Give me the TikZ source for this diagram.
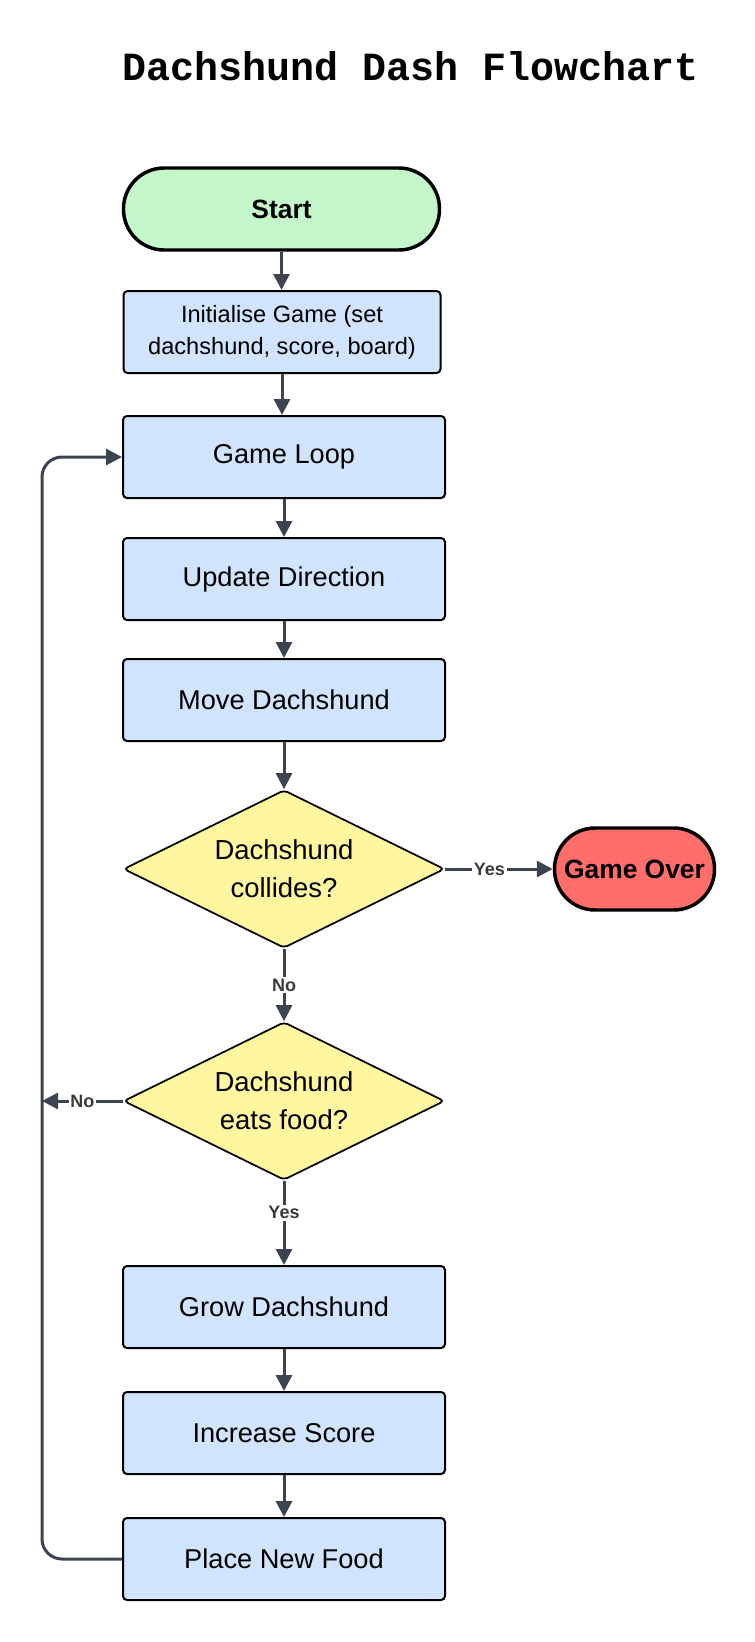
\documentclass[tikz,border=0pt]{standalone}
\usepackage{fontspec}
\setmainfont{Liberation Sans}
\newfontfamily\titlefont{Liberation Mono}
\usetikzlibrary{shapes.geometric, arrows.meta}
\definecolor{boxblue}{HTML}{D0E4FD}
\definecolor{startgreen}{HTML}{C3F6C8}
\definecolor{overred}{HTML}{FF6E6B}
\definecolor{decyellow}{HTML}{FFF6A0}
\definecolor{conncol}{HTML}{3D4451}
\definecolor{labgray}{HTML}{3A3A3A}
\begin{document}
\begin{tikzpicture}[x=0.75pt,y=-0.75pt,
  procbox/.style={draw=black, line width=1.5pt, fill=boxblue, rounded corners=3pt,
    minimum width=241.5pt, minimum height=61.5pt, inner sep=0pt, align=center,
    font=\fontsize{20.4}{24}\selectfont},
  termbox/.style={draw=black, line width=2.6pt, rounded corners=30.5pt,
    minimum height=61.5pt, inner sep=0pt, align=center,
    font=\bfseries\fontsize{19.8}{24}\selectfont},
  decision/.style={diamond, draw=black, line width=1.3pt, fill=decyellow, rounded corners=3pt,
    minimum width=240.75pt, minimum height=118.5pt, inner sep=0pt, shape aspect=2,
    align=center, font=\fontsize{20.6}{28.5}\selectfont},
  conn/.style={draw=conncol, line width=2.25pt, -{Triangle[length=12pt,width=12pt]}},
  lab/.style={fill=white, inner sep=1.2pt, text=labgray, font=\bfseries\fontsize{13.5}{15}\selectfont}
]
\useasboundingbox (0,0) rectangle (755,1642);

\node[anchor=base, font=\titlefont\bfseries\fontsize{30}{36}\selectfont] (title) at (411,80) {Dachshund Dash Flowchart};

\node[termbox, fill=startgreen, minimum width=237pt] (start) at (281.5,209) {Start};
\node[procbox, minimum width=237.75pt, font=\fontsize{17.7}{24}\selectfont] (init) at (282,332) {Initialise Game (set\\dachshund, score, board)};
\node[procbox] (loop) at (284,457) {Game Loop};
\node[procbox] (update) at (284,579) {Update Direction};
\node[procbox] (move) at (284,700) {Move Dachshund};
\node[decision] (coll) at (284,869) {Dachshund\\collides?};
\node[termbox, fill=overred, minimum width=120pt] (over) at (634.5,869) {Game Over};
\node[decision] (eats) at (284,1101) {Dachshund\\eats food?};
\node[procbox] (grow) at (284,1307) {Grow Dachshund};
\node[procbox] (score) at (284,1433) {Increase Score};
\node[procbox] (food) at (284,1559) {Place New Food};
\coordinate (back) at (42,1101);

\draw[conn] (start.south) -- (start.south |- init.north);
\draw[conn] (init.south) -- (init.south |- loop.north);
\draw[conn] (loop) -- (update);
\draw[conn] (update) -- (move);
\draw[conn] (move) -- (coll);
\draw[conn] (coll.east) -- node[lab, pos=0.41] {Yes} (over.west);
\draw[conn] (coll.south) -- node[lab, pos=0.5] {No} (eats.north);
\draw[conn] (eats.west) -- node[lab, pos=0.5] {No} (back);
\draw[conn] (eats.south) -- node[lab, pos=0.38] {Yes} (grow.north);
\draw[conn] (grow) -- (score);
\draw[conn] (score) -- (food);
\draw[conn, rounded corners=15pt] (food.west) -| (back) |- (loop.west);
\end{tikzpicture}
\end{document}
